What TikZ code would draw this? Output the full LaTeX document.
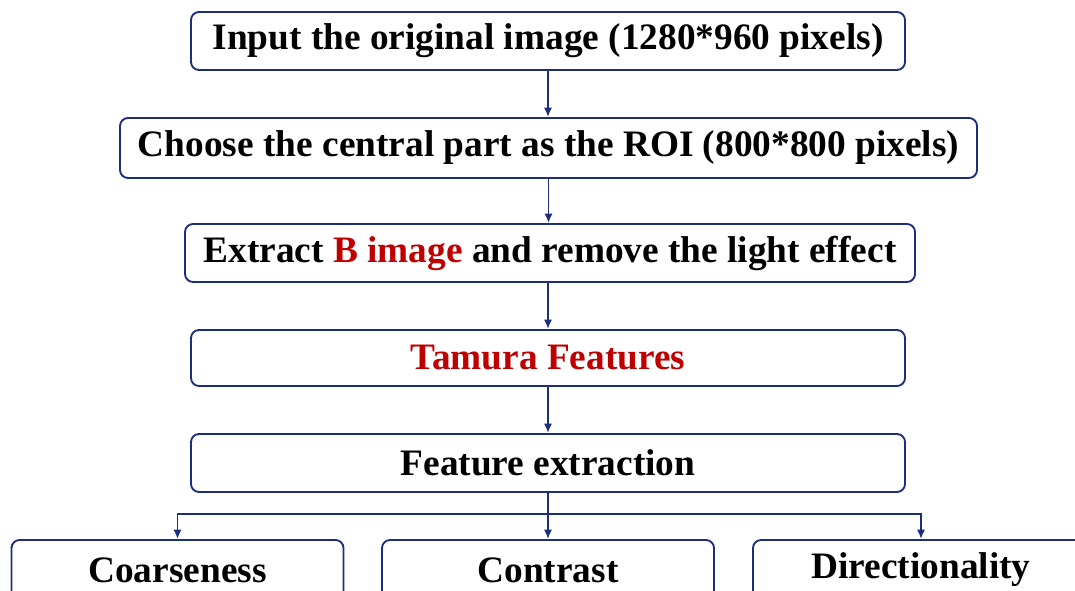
\documentclass[tikz,border=0pt]{standalone}
\usepackage{fontspec}
\setmainfont{Liberation Serif}
\usetikzlibrary{arrows.meta,calc}
\definecolor{LineClr}{rgb}{0.11,0.18,0.49}
\definecolor{WordClr}{rgb}{0.75,0,0}

\begin{document}
\begin{tikzpicture}[x=0.75pt,y=-0.75pt,
  box/.style={draw=LineClr,line width=1.4pt,rounded corners=6pt,inner sep=0pt,
    font=\fontsize{28}{30}\selectfont\bfseries},
  link/.style={draw=LineClr,line width=1.3pt,-{Latex[length=7pt,width=6pt]}}]
\clip (0,0) rectangle (1075,591);
\useasboundingbox (0,0) rectangle (1075,591);

\node[box,minimum width=535.5pt,minimum height=43.5pt] (input) at (548,41) {Input the original image (1280*960 pixels)};
\node[box,minimum width=642.75pt,minimum height=45pt] (roi) at (548.5,148) {Choose the central part as the ROI (800*800 pixels)};
\node[box,minimum width=547.5pt,minimum height=43.5pt] (bimg) at (550,253) {Extract \textcolor{WordClr}{B image} and remove the light effect};
\node[box,minimum width=535.5pt,minimum height=42pt] (tamura) at (548,358) {\textcolor{WordClr}{Tamura Features}};
\node[box,minimum width=535.5pt,minimum height=43.5pt] (feat) at (548,463) {Feature extraction};

\node[box,minimum width=249pt,minimum height=45pt] (coarse) at (177.5,570) {Coarseness};
\node[box,minimum width=249pt,minimum height=45pt] (contr) at (548,570) {Contrast};
\node[box,minimum width=252pt,minimum height=45pt] (direc) at (921,570) {Directionality};

\coordinate (split) at (548,514);

\draw[link] (input.south) -- (input.south |- roi.north);
\draw[link] (roi.south) -- (roi.south |- bimg.north);
\draw[link] (tamura.north |- bimg.south) -- (tamura.north);
\draw[link] (tamura.south) -- (feat.north);
\draw[link] (feat.south) -- (contr.north);
\draw[link] (split) -| (coarse.north);
\draw[link] (split) -| (direc.north);

\end{tikzpicture}
\end{document}
